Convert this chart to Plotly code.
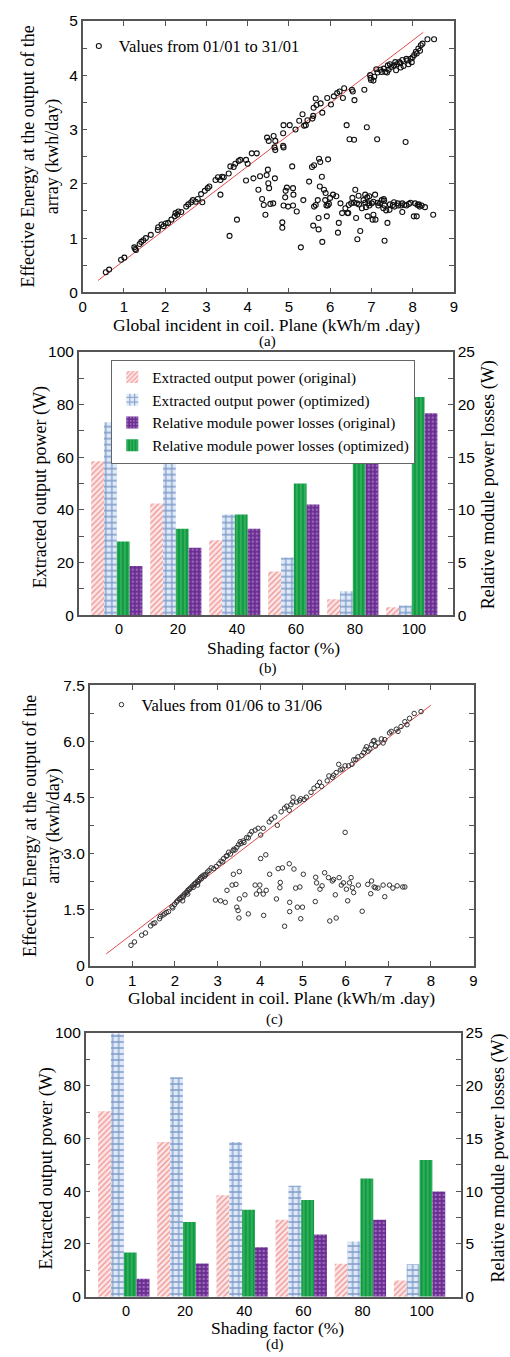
import plotly.graph_objects as go

# ---------------- data ----------------
# Panel (a): January scatter
jan_x = [0.56,0.64,0.93,1.01,1.25,1.27,1.29,1.38,1.42,1.47,
         1.53,1.65,1.82,1.83,1.91,1.96,2.01,2.07,2.15,2.23,
         2.25,2.29,2.32,2.39,2.51,2.56,2.63,2.67,2.74,2.79,
         2.87,2.90,2.96,3.03,3.07,3.22,3.28,3.34,3.38,3.42,
         3.34,3.54,3.58,3.66,3.70,3.78,3.82,3.74,3.56,3.96,
         4.00,4.10,4.22,3.96,4.14,4.26,4.30,4.35,4.39,4.43,
         4.46,4.47,4.51,4.49,4.50,4.52,4.55,4.62,4.66,4.63,
         4.67,4.65,4.67,4.86,4.87,4.86,4.87,4.84,4.84,4.87,
         4.92,4.95,4.91,4.98,5.02,5.08,5.10,5.11,5.10,5.16,
         5.19,5.29,5.25,5.33,5.35,5.37,5.41,5.45,5.57,5.59,
         5.60,5.65,5.67,5.49,5.56,5.61,5.59,5.61,5.65,5.70,
         5.72,5.72,5.73,5.75,5.76,5.77,5.80,5.81,5.81,5.85,
         5.88,5.89,5.91,5.92,5.94,5.95,5.93,5.97,6.00,6.02,
         6.09,6.07,6.15,6.17,6.19,6.21,6.23,6.25,6.29,6.31,
         6.34,6.37,6.40,6.42,6.44,6.45,6.47,6.51,6.53,6.54,
         6.55,6.58,6.59,6.61,6.63,6.65,6.66,6.69,6.73,6.77,
         6.81,6.83,6.85,6.87,6.89,6.91,6.93,6.95,6.97,6.99,
         7.01,7.03,7.05,7.07,7.09,7.10,7.12,7.14,7.17,7.21,
         7.25,7.29,7.31,7.32,7.34,7.36,7.39,7.40,7.44,7.48,
         7.52,7.56,7.58,7.60,7.64,7.68,7.71,7.72,7.75,7.78,
         7.80,7.83,7.87,7.91,7.95,7.98,8.03,8.04,8.06,8.08,
         8.10,8.12,8.14,8.17,8.20,8.24,8.30,8.36,8.52,8.50,
         7.15,7.22,7.30,7.38,7.45,7.55,7.62,7.70,7.75,7.85,
         7.90,8.00,8.10,8.18,7.42,7.05,6.98,
         6.70,6.85,6.95,7.05,7.15,7.25,7.32,7.45,7.55,7.65,
         7.75,7.85,7.95,8.15,8.22,6.58,6.90,7.30]
jan_y = [0.37,0.42,0.60,0.64,0.83,0.80,0.78,0.89,0.93,0.96,
         1.00,1.06,1.15,1.20,1.25,1.22,1.27,1.28,1.34,1.40,
         1.46,1.43,1.49,1.48,1.58,1.62,1.66,1.70,1.67,1.72,
         1.81,1.66,1.87,1.92,1.95,2.07,2.12,2.07,2.13,2.12,
         1.80,2.19,2.32,2.31,2.37,2.42,2.44,1.34,1.04,2.44,
         2.37,2.56,2.56,2.06,2.10,1.89,2.14,1.72,1.61,1.43,
         2.16,2.85,2.79,2.26,2.01,1.92,1.63,1.64,2.10,2.88,
         2.79,2.67,2.62,2.93,3.08,2.70,2.67,1.29,1.19,1.60,
         1.87,1.93,1.75,1.58,3.08,2.32,1.92,1.80,1.60,3.00,
         1.49,0.83,3.16,3.28,1.70,3.07,3.08,3.17,3.20,3.25,
         3.40,3.57,3.45,2.04,2.31,2.34,1.23,1.58,1.61,1.70,
         1.37,1.16,2.46,1.95,2.40,3.48,2.13,0.93,3.31,1.89,
         1.70,1.83,1.60,1.40,1.60,2.45,3.58,1.63,1.74,3.46,
         3.61,1.80,1.77,3.67,1.10,1.28,3.70,1.64,1.46,3.58,
         3.76,1.55,3.08,1.46,1.46,1.61,2.82,1.64,3.73,1.74,
         3.70,2.81,3.54,1.89,1.37,1.64,0.98,1.78,1.13,1.55,
         1.70,3.73,1.80,1.57,3.04,1.40,1.64,1.77,4.00,3.91,
         1.64,1.34,1.43,3.97,1.80,1.34,4.11,2.82,1.60,1.64,
         4.06,1.55,1.69,0.95,4.06,1.51,1.28,4.18,1.52,4.15,
         1.61,1.58,4.24,4.09,1.64,4.24,4.14,1.60,1.48,4.17,
         1.61,2.77,4.27,1.63,4.30,4.24,1.40,4.37,1.64,4.43,
         1.40,1.61,4.49,1.58,4.55,4.58,1.57,4.66,4.66,1.43,
         4.05,4.10,4.12,4.05,4.20,4.18,4.20,4.22,4.28,4.30,
         4.20,4.33,4.40,4.45,4.10,3.90,3.95,
         1.62,1.65,1.60,1.67,1.65,1.70,1.60,1.62,1.66,1.60,
         1.64,1.60,1.65,1.62,1.60,1.65,1.75,1.72]
jan_fit_x = [0.37, 8.26]
jan_fit_y = [0.22, 4.79]

# Panel (c): June scatter
jun_x = [0.97,1.05,1.22,1.31,1.43,1.49,1.53,1.64,1.66,1.72,
         1.76,1.80,1.93,1.99,2.03,2.06,2.10,2.14,2.18,2.22,
         2.26,2.30,2.33,2.37,2.41,2.45,2.49,2.53,2.57,2.60,
         2.64,2.68,2.72,2.76,2.80,2.53,2.18,2.30,2.91,2.97,
         3.03,3.08,3.14,3.20,3.26,3.30,3.36,3.41,3.45,3.49,
         3.53,3.60,3.68,3.76,3.80,3.88,3.95,4.01,4.07,4.21,
         4.26,4.34,4.40,4.49,4.57,4.62,4.68,4.72,4.77,4.76,
         4.85,4.92,4.95,5.03,5.08,5.19,5.26,5.34,5.39,5.44,
         5.57,5.61,5.69,5.72,5.78,5.84,5.88,5.92,5.99,6.07,
         6.15,6.19,6.24,6.29,6.38,6.42,6.46,6.49,6.53,6.57,
         6.61,6.65,6.67,6.70,6.76,6.84,6.88,6.92,7.03,7.07,
         7.19,7.23,7.30,7.39,7.44,7.50,7.61,7.77,
         2.12,2.20,2.28,2.35,2.43,2.47,2.55,2.62,2.70,2.85,
         1.85,1.95,3.12,3.22,3.38,3.55,3.62,3.72,
         2.95,3.07,3.18,3.22,3.34,3.37,3.43,3.45,3.48,3.50,
         3.51,3.51,3.64,3.72,3.88,3.91,3.98,3.99,4.01,4.07,
         4.08,4.13,4.14,4.22,4.38,4.42,4.46,4.47,4.52,4.57,
         4.68,4.69,4.69,4.79,4.83,4.87,4.93,4.95,4.99,5.01,
         5.29,5.30,5.32,5.40,5.45,5.51,5.60,5.63,5.69,5.72,
         5.76,5.78,5.85,5.90,5.95,5.99,6.02,6.05,6.09,6.13,
         6.16,6.19,6.30,6.39,6.52,6.59,6.61,6.67,6.70,6.76,
         6.88,6.92,7.03,7.11,7.21,7.34,7.39]
jun_y = [0.55,0.64,0.82,0.88,1.07,1.13,1.15,1.26,1.32,1.36,
         1.39,1.43,1.58,1.64,1.70,1.74,1.79,1.83,1.87,1.92,
         1.96,2.02,2.05,2.09,2.14,2.18,2.22,2.27,2.31,2.36,
         2.40,2.43,2.44,2.51,2.55,2.16,1.74,1.92,2.60,2.66,
         2.73,2.80,2.87,2.93,3.04,2.99,3.08,3.10,3.17,3.24,
         3.32,3.34,3.43,3.52,3.59,3.63,3.68,3.50,3.68,3.85,
         3.92,3.98,3.76,4.12,4.22,4.27,4.16,4.31,4.51,4.38,
         4.38,4.42,4.47,4.45,4.51,4.64,4.75,4.82,4.91,4.80,
         4.95,5.08,5.04,5.10,5.17,5.39,5.24,5.26,5.35,5.35,
         5.39,5.51,5.52,5.59,5.63,5.70,5.79,5.86,5.74,5.80,
         5.92,6.01,6.03,5.88,5.96,6.07,5.96,6.05,6.23,6.27,
         6.33,6.27,6.40,6.53,6.45,6.62,6.75,6.80,
         1.78,1.85,1.97,2.05,2.10,2.20,2.25,2.33,2.40,2.62,
         1.45,1.55,2.78,2.95,3.12,3.27,3.30,3.42,
         1.76,1.74,1.70,2.02,2.16,2.45,2.18,1.57,1.48,1.28,
         1.79,2.52,1.90,1.39,2.16,1.92,2.01,2.16,2.87,1.92,
         1.35,2.97,2.02,2.45,1.79,2.60,2.09,2.23,2.62,1.06,
         2.73,1.70,1.45,2.59,2.08,1.57,2.11,1.26,1.57,2.45,
         1.72,2.37,2.22,2.05,2.14,2.49,2.36,1.20,2.27,2.31,
         1.90,1.28,2.36,2.16,2.22,3.57,2.05,1.74,2.22,2.36,
         2.09,1.96,2.16,1.46,2.18,1.93,2.27,2.11,2.09,2.08,
         2.16,1.85,2.16,2.08,2.14,2.11,2.11]
jun_fit_x = [0.39, 8.0]
jun_fit_y = [0.32, 6.97]

# Panels (b) and (d): bars
shading = ["0", "20", "40", "60", "80", "100"]
b_ext_orig = [58.4, 42.4, 28.5, 16.6, 6.1, 3.1]
b_ext_opt = [73.2, 58.7, 38.2, 21.9, 9.1, 3.7]
b_loss_opt = [7.0, 8.2, 9.56, 12.5, 15.2, 20.7]
b_loss_orig = [4.67, 6.4, 8.2, 10.5, 14.6, 19.15]
d_ext_orig = [70.3, 58.7, 38.5, 29.2, 12.5, 6.1]
d_ext_opt = [99.8, 83.2, 58.7, 42.1, 20.9, 12.3]
d_loss_opt = [4.18, 7.08, 8.23, 9.17, 11.2, 12.97]
d_loss_orig = [1.71, 3.15, 4.68, 5.9, 7.3, 9.98]

legend_names = ["Extracted output power (original)",
                "Extracted output power (optimized)",
                "Relative module power losses (original)",
                "Relative module power losses (optimized)"]

# ---------------- styles ----------------
W, H = 510, 1357
SERIF = "Liberation Serif"
SANS = "Liberation Sans"
AX = "#555555"
RED = "#e24a4a"

def px(xp):
    return xp / W

def py(yp):
    return 1 - yp / H

pat_red = dict(shape="/", fgcolor="#e04545", bgcolor="#fde6e6", size=4, solidity=0.35)
pat_blue = dict(shape="+", fgcolor="#1f4f9c", bgcolor="#dfe9f7", size=6, solidity=0.38)
pat_green = dict(shape="|", fgcolor="#9be3b2", bgcolor="#0f9b40", size=4, solidity=0.25)
pat_purple = dict(shape=".", fgcolor="#c9a6e2", bgcolor="#6a2c90", size=4, solidity=0.3)

fig = go.Figure()

# ---- panel (a)
fig.add_trace(go.Scatter(x=jan_fit_x, y=jan_fit_y, mode="lines", xaxis="x", yaxis="y",
                         line=dict(color=RED, width=1), showlegend=False, hoverinfo="skip"))
fig.add_trace(go.Scatter(x=jan_x, y=jan_y, mode="markers", xaxis="x", yaxis="y",
                         name="Values from 01/01 to 31/01", legend="legend",
                         marker=dict(symbol="circle-open", size=5, color="#111",
                                     line=dict(width=1.1, color="#111"))))

# ---- panel (b)
W_BAR = 0.217
offs = [-0.47, -0.47 + W_BAR, -0.47 + 2 * W_BAR, -0.47 + 3 * W_BAR]

def add_bars(xa, yl, yr, ext_o, ext_p, loss_p, loss_o, leg, show):
    fig.add_trace(go.Bar(x=shading, y=ext_o, xaxis=xa, yaxis=yl, width=W_BAR, offset=offs[0],
                         name=legend_names[0], legend=leg, showlegend=show, legendrank=1,
                         marker=dict(pattern=pat_red, line=dict(width=0))))
    fig.add_trace(go.Bar(x=shading, y=ext_p, xaxis=xa, yaxis=yl, width=W_BAR, offset=offs[1],
                         name=legend_names[1], legend=leg, showlegend=show, legendrank=2,
                         marker=dict(pattern=pat_blue, line=dict(width=0))))
    fig.add_trace(go.Bar(x=shading, y=loss_p, xaxis=xa, yaxis=yr, width=W_BAR, offset=offs[2],
                         name=legend_names[3], legend=leg, showlegend=show, legendrank=4,
                         marker=dict(pattern=pat_green, line=dict(width=0))))
    fig.add_trace(go.Bar(x=shading, y=loss_o, xaxis=xa, yaxis=yr, width=W_BAR, offset=offs[3],
                         name=legend_names[2], legend=leg, showlegend=show, legendrank=3,
                         marker=dict(pattern=pat_purple, line=dict(width=0))))

add_bars("x2", "y2", "y3", b_ext_orig, b_ext_opt, b_loss_opt, b_loss_orig, "legend2", True)

# ---- panel (c)
fig.add_trace(go.Scatter(x=jun_fit_x, y=jun_fit_y, mode="lines", xaxis="x3", yaxis="y4",
                         line=dict(color=RED, width=1), showlegend=False, hoverinfo="skip"))
fig.add_trace(go.Scatter(x=jun_x, y=jun_y, mode="markers", xaxis="x3", yaxis="y4",
                         name="Values from 01/06 to 31/06", legend="legend3",
                         marker=dict(symbol="circle-open", size=4.5, color="#333",
                                     line=dict(width=1.0, color="#333"))))

# ---- panel (d)
add_bars("x4", "y5", "y6", d_ext_orig, d_ext_opt, d_loss_opt, d_loss_orig, "legend2", False)

# ---------------- axes ----------------
tickfont = dict(family=SANS, size=15.5, color="black")
xtickfont = dict(family=SANS, size=15, color="black")
cattickfont = dict(family=SANS, size=14.5, color="black")

def lin_axis(domain, anchor, rng, dtick, minor_dtick=None, **kw):
    d = dict(domain=domain, anchor=anchor, range=rng, dtick=dtick, tick0=0,
             ticks="inside", ticklen=5, tickwidth=1, tickcolor=AX,
             showline=True, linecolor=AX, linewidth=1.5, mirror="allticks",
             showgrid=False, zeroline=False, tickfont=tickfont)
    if minor_dtick:
        d["minor"] = dict(dtick=minor_dtick, ticks="inside", ticklen=5, tickcolor=AX, showgrid=False)
    d.update(kw)
    return d

xa_dom = [px(80), px(457)]
ya_dom = [py(287), py(12)]
xb_dom = [px(76), px(456)]
yb_dom = [py(614), py(347)]
xc_dom = [px(87), px(477)]
yc_dom = [py(969), py(685)]
xd_dom = [px(83), px(464)]
yd_dom = [py(1304), py(1037)]

layout_axes = dict(
    xaxis=lin_axis(xa_dom, "y", [0, 9], 1, tickfont=xtickfont),
    yaxis=lin_axis(ya_dom, "x", [0, 5], 1, 0.5),
    xaxis3=lin_axis(xc_dom, "y4", [0, 9], 1, tickfont=xtickfont),
    yaxis4=lin_axis(yc_dom, "x3",
                    [0, 7.5], None,
                    tickmode="array", tickvals=[0, 1.5, 3, 4.5, 6, 7.5],
                    ticktext=["0", "1.5", "3.0", "4.5", "6.0", "7.5"],
                    minor=dict(tickmode="array", tickvals=[0.75, 2.25, 3.75, 5.25, 6.75],
                               ticks="inside", ticklen=5, tickcolor=AX, showgrid=False)),
)

def cat_axis(domain, anchor):
    return dict(domain=domain, anchor=anchor, type="category", range=[-0.68, 5.66],
                ticks="", showline=True, linecolor=AX, linewidth=1.5, mirror=True,
                showgrid=False, zeroline=False, tickfont=cattickfont)

def bar_left(domain, anchor):
    return dict(domain=domain, anchor=anchor, range=[0, 100], dtick=20, tick0=0,
                ticks="inside", ticklen=5, tickcolor=AX, showline=True, linecolor=AX,
                linewidth=1.5, showgrid=False, zeroline=False, tickfont=tickfont,
                minor=dict(dtick=10, ticks="inside", ticklen=5, tickcolor=AX, showgrid=False))

def bar_right(over, anchor):
    return dict(overlaying=over, anchor=anchor, side="right", range=[0, 25], dtick=5, tick0=0,
                ticks="inside", ticklen=5, tickcolor=AX, showline=True, linecolor=AX,
                linewidth=1.5, showgrid=False, zeroline=False, tickfont=tickfont,
                minor=dict(dtick=2.5, ticks="inside", ticklen=5, tickcolor=AX, showgrid=False))

layout_axes.update(
    xaxis2=cat_axis(xb_dom, "y2"),
    yaxis2=bar_left(yb_dom, "x2"),
    yaxis3=bar_right("y2", "x2"),
    xaxis4=cat_axis(xd_dom, "y5"),
    yaxis5=bar_left(yd_dom, "x4"),
    yaxis6=bar_right("y5", "x4"),
)

# ---------------- annotations ----------------
tfont = dict(family=SERIF, size=18, color="black")
xtfont = dict(family=SERIF, size=17.5, color="black")
lblfont = dict(family=SERIF, size=15, color="black")

def ann(text, xp, yp, angle=0, font=tfont):
    return dict(text=text, x=px(xp), y=py(yp), xref="paper", yref="paper",
                xanchor="center", yanchor="middle", showarrow=False,
                textangle=angle, font=font, align="center")

annotations = [
    ann("Effective Energy at the output of the<br>array (kwh/day)", 37, 149, -90),
    ann("Global incident in coil. Plane (kWh/m .day)", 267, 320, font=xtfont),
    ann("(a)", 268, 337, font=lblfont),
    ann("Extracted output power (W)", 38, 484, -90),
    ann("Relative module power losses (W)", 493, 482, -90),
    ann("Shading factor (%)", 274, 647, font=xtfont),
    ann("(b)", 268, 668, font=lblfont),
    ann("Effective Energy at the output of the<br>array (kwh/day)", 38, 827, -90),
    ann("Global incident in coil. Plane (kWh/m .day)", 282, 1002, font=xtfont),
    ann("(c)", 275, 1023, font=lblfont),
    ann("Extracted output power (W)", 43, 1174, -90),
    ann("Relative module power losses (W)", 502, 1164, -90),
    ann("Shading factor (%)", 278, 1336, font=xtfont),
    ann("(d)", 275, 1352, font=lblfont),
]

legfont = dict(family=SERIF, size=16.5, color="black")

fig.update_layout(
    width=W, height=H,
    margin=dict(l=0, r=0, t=0, b=0),
    paper_bgcolor="white", plot_bgcolor="white",
    barmode="overlay",
    annotations=annotations,
    legend=dict(x=px(76), y=py(20), xanchor="left", yanchor="top",
                bgcolor="rgba(0,0,0,0)", borderwidth=0, font=legfont),
    legend2=dict(x=px(109), y=py(355), xanchor="left", yanchor="top",
                 bgcolor="white", bordercolor="#666", borderwidth=1,
                 font=dict(family=SERIF, size=15.2, color="black"),
                 traceorder="normal", tracegroupgap=0),
    legend3=dict(x=px(99), y=py(687), xanchor="left", yanchor="top",
                 bgcolor="rgba(0,0,0,0)", borderwidth=0, font=legfont),
    **layout_axes,
)

fig.write_html("out.html")
